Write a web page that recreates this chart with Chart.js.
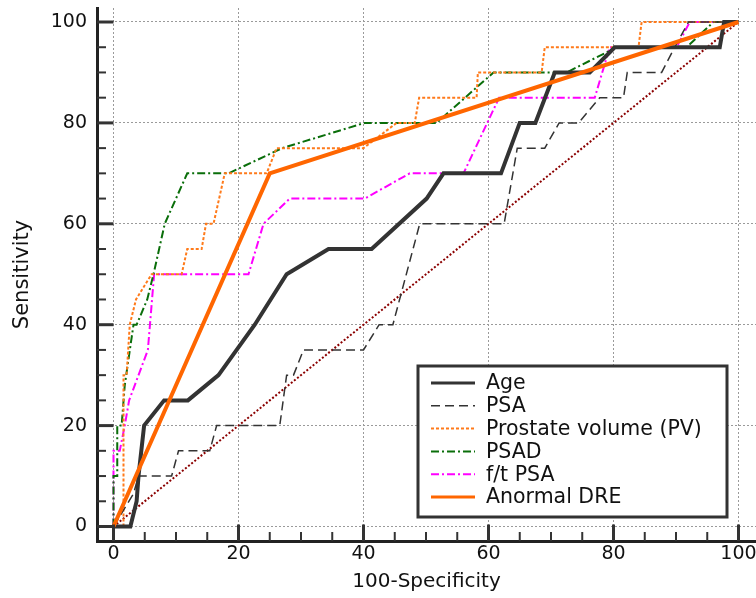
<!DOCTYPE html>
<html>
<head>
<meta charset="utf-8">
<script src="https://cdn.jsdelivr.net/npm/chart.js@4.4.0/dist/chart.umd.min.js"></script>
<style>
  body { margin: 0; background: #fff; }
  #wrap { position: relative; width: 756px; height: 598px; }
</style>
</head>
<body>
<div id="wrap"><canvas id="roc"></canvas></div>
<script>
// tick labels
const xTicks = [0, 20, 40, 60, 80, 100];
const yTicks = [0, 20, 40, 60, 80, 100];

// 100-specificity / sensitivity for each curve
const ageX = [0, 2.7, 3.7, 4, 4.9, 8.1, 11.9, 16.8, 22.6, 27.7, 34.4, 41.3, 50.1, 52.8, 62, 65, 67.5, 70.6, 76.2, 80.2, 97, 97.7, 100];
const ageY = [0, 0, 5, 10, 20, 25, 25, 30, 40, 50, 55, 55, 65, 70, 70, 80, 80, 90, 90, 95, 95, 100, 100];

const psaX = [0, 3.2, 4, 9.3, 10.4, 15.4, 16.5, 26.6, 27.7, 28.8, 30.4, 40, 42.5, 44.7, 49, 62.5, 64.6, 69, 71.3, 74.4, 77.8, 81.6, 82.2, 87.7, 89.8, 92, 100];
const psaY = [0, 6.5, 10, 10, 15, 15, 20, 20, 30, 30, 35, 35, 40, 40, 60, 60, 75, 75, 80, 80, 85, 85, 90, 90, 95, 100, 100];

const pvX = [0, 1.6, 1.6, 2.1, 2.6, 3.6, 6.1, 10.9, 11.8, 14.1, 14.8, 16, 17.8, 24.5, 26.1, 40, 45.3, 48.2, 48.9, 58.1, 58.3, 68.5, 69, 84, 84.5, 100];
const pvY = [0, 0, 30, 30, 40, 45, 50, 50, 55, 55, 60, 60, 70, 70, 75, 75, 80, 80, 85, 85, 90, 90, 95, 95, 100, 100];

const psadX = [0, 0, 0.6, 0.6, 1.3, 1.8, 3.2, 3.7, 5.4, 6.4, 8.2, 11.8, 18.4, 27, 40.2, 51.7, 60.8, 72.5, 80.5, 91.7, 96, 100];
const psadY = [0, 10, 10, 20, 20, 28, 40, 40, 45, 50, 60, 70, 70, 75, 80, 80, 90, 90, 95, 95, 100, 100];

const ftX = [0, 0, 1, 1.8, 2.5, 5.5, 6.5, 21.6, 24, 28.2, 40.2, 47.4, 56, 61.7, 77, 79.4, 90.1, 92.2, 100];
const ftY = [0, 15, 15, 20, 25, 35, 50, 50, 60, 65, 65, 70, 70, 85, 85, 95, 95, 100, 100];

const dreX = [0, 25, 100];
const dreY = [0, 70, 100];

const refX = [0, 100];
const refY = [0, 100];

const pts = (xs, ys) => xs.map((x, i) => ({ x: x, y: ys[i] }));

const FONT = "'DejaVu Sans', sans-serif";

function line(label, xs, ys, color, width, dash, order) {
  return {
    label: label,
    data: pts(xs, ys),
    showLine: true,
    borderColor: color,
    backgroundColor: color,
    borderWidth: width,
    borderDash: dash,
    pointRadius: 0,
    fill: false,
    tension: 0,
    order: order
  };
}

const datasets = [
  line('Age', ageX, ageY, '#333333', 4, [], 1),
  line('PSA', psaX, psaY, '#333333', 1.5, [9, 5], 2),
  line('Prostate volume (PV)', pvX, pvY, '#ff7a1a', 2, [3, 2], 3),
  line('PSAD', psadX, psadY, '#0a6e0a', 2, [8, 3, 2, 3], 4),
  line('f/t PSA', ftX, ftY, '#ff00ff', 2, [8, 3, 2, 3], 5),
  line('Anormal DRE', dreX, dreY, '#ff6600', 4, [], 0)
];
const refLine = line('', refX, refY, '#8b0000', 2, [2, 2], 10);

// tick marks sit inside the axis lines, like the original
const tickMarks = {
  id: 'tickMarks',
  afterDraw(chart) {
    const { ctx, chartArea, scales } = chart;
    ctx.save();
    ctx.strokeStyle = '#333';
    for (let v = 0; v <= 100; v += 5) {
      const major = v % 20 === 0;
      const len = major ? 16.5 : 9;
      ctx.lineWidth = major ? 3 : 2;
      const px = scales.x.getPixelForValue(v);
      ctx.beginPath();
      ctx.moveTo(px, chartArea.bottom);
      ctx.lineTo(px, chartArea.bottom - len);
      ctx.stroke();
      const py = scales.y.getPixelForValue(v);
      ctx.beginPath();
      ctx.moveTo(chartArea.left, py);
      ctx.lineTo(chartArea.left + len, py);
      ctx.stroke();
    }
    ctx.restore();
  }
};

// boxed legend inside the plot, lower right
const boxLegend = {
  id: 'boxLegend',
  afterDraw(chart) {
    const ctx = chart.ctx;
    const bx = 418, by = 366, bw = 309, bh = 151;
    ctx.save();
    ctx.fillStyle = '#fff';
    ctx.fillRect(bx, by, bw, bh);
    ctx.lineWidth = 3;
    ctx.strokeStyle = '#333';
    ctx.strokeRect(bx, by, bw, bh);
    ctx.font = '20.5px ' + FONT;
    ctx.textBaseline = 'middle';
    datasets.forEach((ds, i) => {
      const ry = by + 17 + i * 22.8;
      ctx.strokeStyle = ds.borderColor;
      ctx.lineWidth = Math.min(ds.borderWidth, 3);
      ctx.setLineDash(ds.borderDash);
      ctx.beginPath();
      ctx.moveTo(431, ry);
      ctx.lineTo(475, ry);
      ctx.stroke();
      ctx.setLineDash([]);
      ctx.fillStyle = '#111';
      ctx.fillText(ds.label, 486, ry + 1);
    });
    ctx.restore();
  }
};

new Chart(document.getElementById('roc'), {
  type: 'scatter',
  data: { datasets: datasets.concat([refLine]) },
  options: {
    responsive: true,
    maintainAspectRatio: false,
    animation: false,
    layout: { padding: { top: 8, right: 0, left: 0, bottom: 0 } },
    plugins: {
      legend: { display: false },
      tooltip: { enabled: false }
    },
    scales: {
      x: {
        type: 'linear',
        min: -2.64,
        max: 102.8,
        afterBuildTicks(scale) { scale.ticks = xTicks.map(v => ({ value: v })); },
        afterFit(scale) {
          scale.height = 57;
          scale.paddingLeft = 0;
          scale.paddingRight = 0;
        },
        grid: { color: '#9a9a9a', lineWidth: 1, drawTicks: false },
        border: { display: true, color: '#222', width: 3, dash: [2, 2] },
        ticks: { color: '#111', font: { family: FONT, size: 19 }, padding: 2, maxRotation: 0 },
        title: { display: true, text: '100-Specificity', color: '#111', font: { family: FONT, size: 20 }, padding: { top: 0, bottom: 4 } }
      },
      y: {
        type: 'linear',
        min: -2.874,
        max: 102.775,
        afterBuildTicks(scale) { scale.ticks = yTicks.map(v => ({ value: v })); },
        afterFit(scale) {
          scale.width = 97;
          scale.paddingTop = 0;
          scale.paddingBottom = 0;
        },
        grid: { color: '#9a9a9a', lineWidth: 1, drawTicks: false },
        border: { display: true, color: '#222', width: 3, dash: [2, 2] },
        ticks: { color: '#111', font: { family: FONT, size: 19 }, padding: 10 },
        title: { display: true, text: 'Sensitivity', color: '#111', font: { family: FONT, size: 21 }, padding: { top: 10, bottom: 0 } }
      }
    }
  },
  plugins: [tickMarks, boxLegend]
});
</script>
</body>
</html>
